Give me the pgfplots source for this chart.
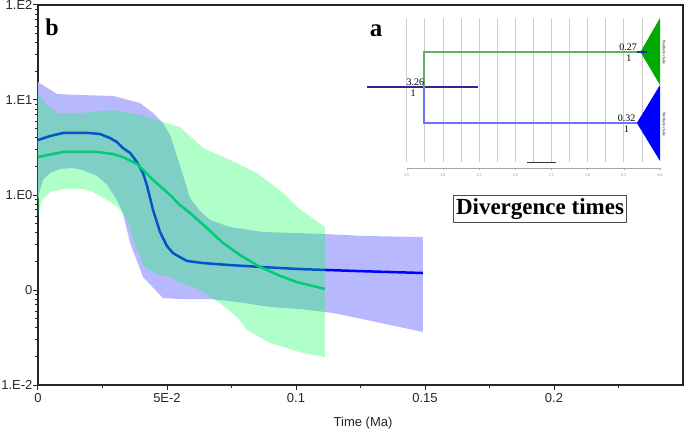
\documentclass[border=0pt]{standalone}
\usepackage{pgfplots}
\pgfplotsset{compat=1.18}
\usepackage{fontspec}
\setmainfont{Liberation Sans}
\newfontfamily\tnr{Liberation Serif}

\definecolor{bandblue}{RGB}{184,184,255}
\definecolor{bandgreen}{RGB}{15,255,88}
\definecolor{lineblue}{RGB}{0,0,255}
\definecolor{linegreen}{RGB}{0,204,120}
\definecolor{navy}{RGB}{40,40,150}
\definecolor{brgreen}{RGB}{96,176,96}
\definecolor{brblue}{RGB}{112,112,255}
\definecolor{clgreen}{RGB}{0,170,0}

\begin{document}
\begin{tikzpicture}
\useasboundingbox (-38pt,-46pt) rectangle (647pt,385pt);

% main plot: lineage-through-time style curves, log scale
\begin{axis}[
  at={(0,0)}, anchor=south west,
  scale only axis, width=645pt, height=380pt,
  xmin=0, xmax=0.25, ymode=log, ymin=0.01, ymax=100,
  xtick={0,0.05,0.1,0.15,0.2}, xticklabels={0,5E-2,0.1,0.15,0.2},
  minor xtick={0.025,0.075,0.125,0.175,0.225},
  ytick={0.01,0.1,1,10,100}, yticklabels={1.E-2,0,1.E0,1.E1,1.E2},
  minor ytick={0.02,0.03,0.04,0.05,0.06,0.07,0.08,0.09,
               0.2,0.3,0.4,0.5,0.6,0.7,0.8,0.9,
               2,3,4,5,6,7,8,9,20,30,40,50,60,70,80,90},
  tick pos=left, tick align=outside,
  major tick length=5pt, minor tick length=3pt,
  every tick/.style={black!85, line width=1pt},
  axis line style={black!85, line width=1.3pt},
  tick label style={font=\fontsize{13}{15}\selectfont, black!85},
  yticklabel style={xshift=3pt},
  xlabel={Time (Ma)},
  xlabel style={font=\fontsize{13}{15}\selectfont, black!85,
    at={(axis description cs:0.504,0)}, anchor=center, yshift=-38pt},
]
% 95% HPD of the blue curve
\addplot[fill=bandblue, draw=none] coordinates {
  (0,15.46) (0.0074,11.56) (0.0163,11.29) (0.0291,11.02) (0.0395,9.30)
  (0.0446,7.30) (0.0484,5.73) (0.0512,4.28) (0.0550,2.07) (0.0589,0.930)
  (0.0628,0.679) (0.0667,0.546) (0.0744,0.460) (0.0872,0.408) (0.1105,0.389)
  (0.1275,0.370) (0.1492,0.361)
  (0.1492,0.0361) (0.1275,0.0483) (0.1143,0.0573) (0.1016,0.0631)
  (0.0899,0.0662) (0.0771,0.0748) (0.0667,0.0804) (0.0550,0.0804)
  (0.0484,0.0824) (0.0407,0.137) (0.0357,0.313) (0.0329,0.647)
  (0.0306,0.886) (0.0267,1.29) (0.0229,1.59) (0.0174,1.83) (0.0136,1.92)
  (0.0085,1.88) (0.0047,1.70) (0.0019,1.44) (0.0008,1.13) (0,0.886)
} -- cycle;
\addplot[lineblue, line width=2.5pt] coordinates {
  (0,3.79) (0.0047,4.18) (0.0097,4.50) (0.0194,4.50) (0.0240,4.39)
  (0.0279,3.98) (0.0306,3.61) (0.0329,3.12) (0.0357,2.77) (0.0384,2.22)
  (0.0407,1.70) (0.0422,1.27) (0.0446,0.695) (0.0473,0.408) (0.0500,0.290)
  (0.0523,0.245) (0.0550,0.222) (0.0578,0.202) (0.0640,0.192) (0.0744,0.183)
  (0.0860,0.175) (0.1016,0.166) (0.1248,0.158) (0.1492,0.151)
};
% 95% HPD of the green curve
\addplot[fill=bandgreen, fill opacity=0.33, draw=none] coordinates {
  (0,11.85) (0.0027,9.30) (0.0074,7.30) (0.0163,7.30) (0.0291,7.85)
  (0.0395,6.95) (0.0484,5.87) (0.0550,5.20) (0.0640,3.12) (0.0744,2.34)
  (0.0849,1.70) (0.0950,1.05) (0.1004,0.748) (0.1112,0.460)
  (0.1112,0.0197) (0.1027,0.0217) (0.0965,0.0245) (0.0899,0.0277)
  (0.0810,0.0379) (0.0771,0.0520) (0.0705,0.0730) (0.0667,0.0844)
  (0.0628,0.100) (0.0550,0.1186) (0.0512,0.137) (0.0450,0.150)
  (0.0407,0.183) (0.0357,0.428) (0.0346,0.55) (0.0318,0.695)
  (0.0306,0.76) (0.0267,0.886) (0.0213,1.075) (0.0174,1.157)
  (0.0097,1.157) (0.0047,1.075) (0.0016,0.886) (0.0008,0.75) (0,0.60)
} -- cycle;
\addplot[linegreen, line width=2.5pt] coordinates {
  (0,2.51) (0.0097,2.84) (0.0229,2.84) (0.0291,2.70) (0.0329,2.51)
  (0.0384,2.12) (0.0415,1.75) (0.0446,1.44) (0.0512,1.00) (0.0550,0.785)
  (0.0589,0.647) (0.0647,0.470) (0.0717,0.313) (0.0783,0.233)
  (0.0860,0.175) (0.0938,0.141) (0.1004,0.121) (0.1112,0.1026)
};
\end{axis}

% inset a: dated tree
\begin{axis}[
  at={(368.7pt,217pt)}, anchor=south west,
  scale only axis, width=253.3pt, height=153pt,
  xmin=0, xmax=3.5, x dir=reverse, ymin=32, ymax=185,
  axis x line=bottom, axis y line=none, clip=false,
  x axis line style={gray!70, line width=0.6pt, -},
  xtick={0,0.5,1,1.5,2,2.5,3,3.5},
  xticklabels={0.0,0.5,1.0,1.5,2.0,2.5,3.0,3.5},
  minor xtick={0.25,0.75,1.25,1.75,2.25,2.75,3.25},
  tick align=outside, major tick length=2pt, minor tick length=1.2pt,
  every tick/.style={gray!70, line width=0.4pt},
  tick label style={font=\tnr\fontsize{4}{4}\selectfont, gray},
]
\addplot[gray!40, line width=0.7pt, unbounded coords=jump] coordinates {
  (3.5,38) (3.5,182) (3.4,nan) (3.25,38) (3.25,182) (3.1,nan)
  (3,38) (3,182) (2.9,nan) (2.75,38) (2.75,182) (2.6,nan)
  (2.5,38) (2.5,182) (2.4,nan) (2.25,38) (2.25,182) (2.1,nan)
  (2,38) (2,182) (1.9,nan) (1.75,38) (1.75,182) (1.6,nan)
  (1.5,38) (1.5,182) (1.4,nan) (1.25,38) (1.25,182) (1.1,nan)
  (1,38) (1,182) (0.9,nan) (0.75,38) (0.75,182) (0.6,nan)
  (0.5,38) (0.5,182) (0.4,nan) (0.25,38) (0.25,182)
};
\addplot[black!80, line width=1pt] coordinates {(1.84,37) (1.44,37)};
\addplot[navy, line width=1.2pt] coordinates {(4.05,113) (2.51,113)};
\addplot[brgreen, line width=1.2pt] coordinates {(3.26,113) (3.26,148) (0.27,148)};
\addplot[brblue, line width=1.2pt] coordinates {(3.26,113) (3.26,77) (0.32,77)};
\addplot[fill=clgreen, draw=none] coordinates {(0.27,148) (0,182) (0,115)} -- cycle;
\addplot[fill=blue, draw=none] coordinates {(0.32,77) (0,115) (0,39)} -- cycle;
\addplot[navy, line width=1.5pt] coordinates {(0.32,148) (0.18,148)};
\node[font=\tnr\fontsize{10}{10}\selectfont] at (axis cs:3.38,118) {3.26};
\node[font=\tnr\fontsize{10}{10}\selectfont] at (axis cs:3.41,107) {1};
\node[font=\tnr\fontsize{10}{10}\selectfont] at (axis cs:0.44,153) {0.27};
\node[font=\tnr\fontsize{10}{10}\selectfont] at (axis cs:0.43,142) {1};
\node[font=\tnr\fontsize{10}{10}\selectfont] at (axis cs:0.46,82) {0.32};
\node[font=\tnr\fontsize{10}{10}\selectfont] at (axis cs:0.46,71) {1};
\node[font=\tnr\fontsize{4}{4}\selectfont, rotate=-90] at (axis cs:-0.06,148) {Southern clade};
\node[font=\tnr\fontsize{4}{4}\selectfont, rotate=-90] at (axis cs:-0.06,76) {Northern clade};
\end{axis}

\node[font=\tnr\bfseries\fontsize{24}{24}\selectfont] at (14pt,358pt) {b};
\node[font=\tnr\bfseries\fontsize{25}{25}\selectfont] at (338pt,354pt) {a};
\node[draw=black!70, line width=1pt, fill=white, inner xsep=3pt, inner ysep=2.5pt,
      font=\tnr\bfseries\fontsize{23}{23}\selectfont] at (502pt,176pt) {Divergence times};
\end{tikzpicture}
\end{document}
